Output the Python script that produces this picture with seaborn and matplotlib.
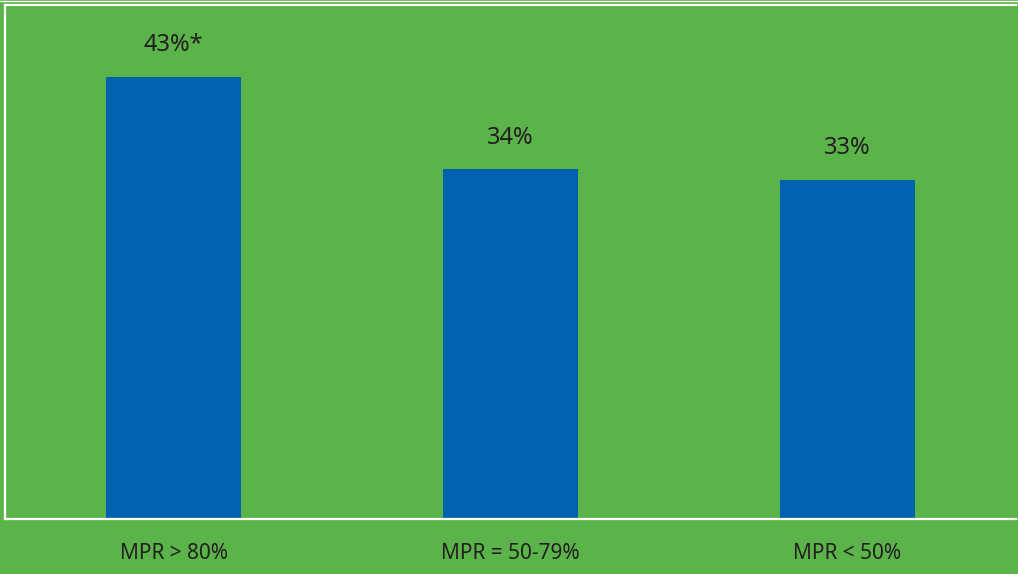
import seaborn as sns
import matplotlib.pyplot as plt
from matplotlib.lines import Line2D
import pandas as pd

# Data
categories = ['MPR > 80%', 'MPR = 50-79%', 'MPR < 50%']
values = [43, 34, 33]
value_labels = ['43%*', '34%', '33%']

green = '#5BB44A'
blue = '#0062AF'
text_color = '#231F20'

df = pd.DataFrame({'group': categories, 'pct': values})

sns.set_style('white')
plt.rcParams['font.family'] = ['Noto Sans', 'DejaVu Sans']

fig = plt.figure(figsize=(10.18, 5.74), dpi=100, facecolor=green)
ax = fig.add_axes([5 / 1018, 55 / 574, 1011 / 1018, 514 / 574])
ax.set_facecolor(green)

sns.barplot(data=df, x='group', y='pct', color=blue, saturation=1,
            width=0.4, linewidth=0, ax=ax)

ax.set_xlim(-0.5, 2.5)
ax.set_ylim(0, 50)

for i, (v, lab) in enumerate(zip(values, value_labels)):
    ax.text(i, v + 3.1, lab, ha='center', va='center', fontsize=17,
            color=text_color)

ax.set_xlabel('')
ax.set_ylabel('')
ax.set_yticks([])
ax.tick_params(axis='x', length=0, pad=17, labelsize=15, labelcolor=text_color)

for side in ['left', 'top', 'bottom']:
    ax.spines[side].set_visible(True)
    ax.spines[side].set_color('white')
    ax.spines[side].set_linewidth(1.6)
ax.spines['right'].set_visible(False)

# thin white rule along the very top of the image
fig.add_artist(Line2D([0, 1], [1 - 0.8 / 574, 1 - 0.8 / 574],
                      transform=fig.transFigure, color='white', linewidth=1.0))

fig.savefig('out.png', dpi=100, facecolor=green)
